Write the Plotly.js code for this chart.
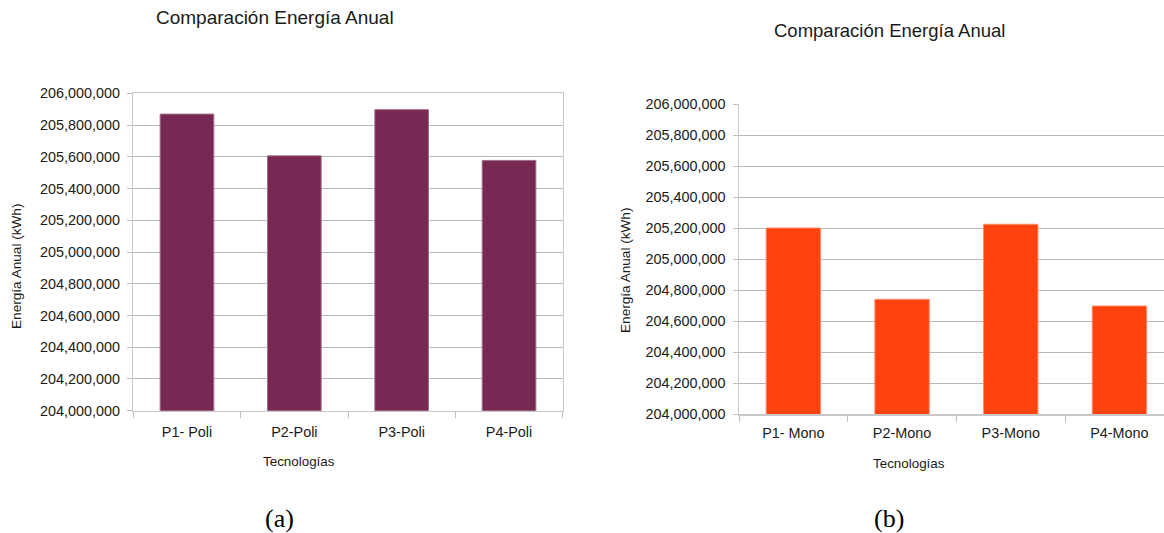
<!DOCTYPE html>
<html>
<head>
<meta charset="utf-8">
<script src="https://cdn.plot.ly/plotly-3.0.1.min.js"></script>
<style>html,body{margin:0;padding:0;background:#fff;}#chart{width:1164px;height:533px;}</style>
</head>
<body>
<div id="chart"></div>
<script>
const categoriesPoli = ["P1- Poli", "P2-Poli", "P3-Poli", "P4-Poli"];
const energiaPoli = [205869000, 205606000, 205897000, 205577000];
const categoriesMono = ["P1- Mono", "P2-Mono", "P3-Mono", "P4-Mono"];
const energiaMono = [205200000, 204740000, 205224000, 204697000];
const chartTitle = "Comparación Energía Anual";
const yTitle = "Energía Anual (kWh)";
const xTitle = "Tecnologías";
const captions = ["(a)", "(b)"];

const W = 1164, H = 533;
const px = v => v / W;
const py = v => 1 - v / H;
const FONT = "Liberation Sans, Arial, sans-serif";
const TXT = "#1a1a1a";

const traces = [
  {type: "bar", x: categoriesPoli, y: energiaPoli, xaxis: "x", yaxis: "y", width: 0.5,
   marker: {color: "#772953", line: {color: "#a0708a", width: 1}}, hoverinfo: "x+y"},
  {type: "bar", x: categoriesMono, y: energiaMono, xaxis: "x2", yaxis: "y2", width: 0.5,
   marker: {color: "#ff420e", line: {color: "#ff8a6a", width: 1}}, hoverinfo: "x+y"}
];

const yCommon = {
  range: [204000000, 206000000], dtick: 200000, tickformat: ",",
  showgrid: true, gridcolor: "#b8b8b8", gridwidth: 1,
  showline: true, linecolor: "#c8c8c8", linewidth: 1.5,
  ticks: "outside", ticklen: 5, tickcolor: "#c0c0c0", ticklabelstandoff: 4,
  tickfont: {family: FONT, size: 14.4, color: TXT}, zeroline: false, fixedrange: true
};
const xCommon = {
  type: "category", tickson: "boundaries", ticks: "outside", ticklen: 6, tickcolor: "#c0c0c0",
  showline: true, linecolor: "#c8c8c8", linewidth: 1.5, showgrid: false,
  tickfont: {family: FONT, size: 14.4, color: TXT}, fixedrange: true
};

const layout = {
  width: W, height: H, margin: {l: 0, r: 0, t: 0, b: 0},
  paper_bgcolor: "#fff", plot_bgcolor: "#fff", showlegend: false,
  xaxis: Object.assign({}, xCommon, {domain: [px(133.3), px(562.7)], anchor: "y", range: [-0.5, 3.5], mirror: true, ticklabelstandoff: 8}),
  yaxis: Object.assign({}, yCommon, {domain: [py(410.7), py(93.3)], anchor: "x", mirror: true}),
  xaxis2: Object.assign({}, xCommon, {domain: [px(739), 1], anchor: "y2", range: [-0.5, 3.41], ticklabelstandoff: 5}),
  yaxis2: Object.assign({}, yCommon, {domain: [py(414), py(104)], anchor: "x2"}),
  annotations: [
    {text: chartTitle, x: px(275), y: py(17), xref: "paper", yref: "paper", showarrow: false,
     xanchor: "center", yanchor: "middle", font: {family: FONT, size: 19, color: TXT}},
    {text: chartTitle, x: px(889), y: py(30), xref: "paper", yref: "paper", showarrow: false,
     xanchor: "center", yanchor: "middle", font: {family: FONT, size: 18.5, color: TXT}},
    {text: yTitle, x: px(16), y: py(267), xref: "paper", yref: "paper", showarrow: false, textangle: -90,
     xanchor: "center", yanchor: "middle", font: {family: FONT, size: 13.6, color: TXT}},
    {text: yTitle, x: px(625), y: py(271), xref: "paper", yref: "paper", showarrow: false, textangle: -90,
     xanchor: "center", yanchor: "middle", font: {family: FONT, size: 13.6, color: TXT}},
    {text: xTitle, x: px(299), y: py(461), xref: "paper", yref: "paper", showarrow: false,
     xanchor: "center", yanchor: "middle", font: {family: FONT, size: 13.4, color: TXT}},
    {text: xTitle, x: px(909), y: py(463), xref: "paper", yref: "paper", showarrow: false,
     xanchor: "center", yanchor: "middle", font: {family: FONT, size: 13.4, color: TXT}},
    {text: captions[0], x: px(279), y: py(518), xref: "paper", yref: "paper", showarrow: false,
     xanchor: "center", yanchor: "middle", font: {family: "Liberation Serif, DejaVu Serif, serif", size: 26, color: "#000"}},
    {text: captions[1], x: px(889), y: py(518), xref: "paper", yref: "paper", showarrow: false,
     xanchor: "center", yanchor: "middle", font: {family: "Liberation Serif, DejaVu Serif, serif", size: 26, color: "#000"}}
  ]
};

Plotly.newPlot("chart", traces, layout, {displayModeBar: false, staticPlot: true});
</script>
</body>
</html>
